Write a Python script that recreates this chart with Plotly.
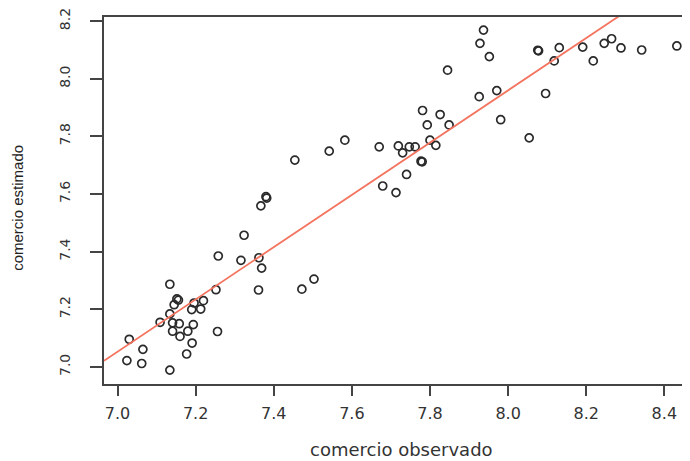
import plotly.graph_objects as go

# observed (x) and estimated (y) trade values
observado = [
    7.024, 7.030, 7.062, 7.065, 7.109, 7.134, 7.134, 7.134, 7.141, 7.141,
    7.145, 7.152, 7.156, 7.158, 7.160, 7.177, 7.180, 7.190, 7.191, 7.194,
    7.196, 7.213, 7.220, 7.252, 7.256, 7.258, 7.316, 7.362, 7.369, 7.324,
    7.367, 7.380, 7.382, 7.361, 7.472, 7.503, 7.454, 7.542, 7.582, 7.670,
    7.679, 7.713, 7.719, 7.730, 7.740, 7.747, 7.762, 7.777, 7.780, 7.781,
    7.793, 7.800, 7.815, 7.826, 7.849, 7.845, 7.926, 7.971, 7.981, 8.054,
    8.096, 7.937, 7.928, 7.952, 8.076, 8.078, 8.131, 8.118, 8.191, 8.218,
    8.246, 8.265, 8.289, 8.342, 8.432,
]
estimado = [
    7.022, 7.096, 7.012, 7.061, 7.155, 7.287, 7.184, 6.989, 7.153, 7.124,
    7.216, 7.236, 7.232, 7.150, 7.106, 7.045, 7.124, 7.199, 7.083, 7.147,
    7.222, 7.201, 7.230, 7.268, 7.123, 7.385, 7.370, 7.379, 7.343, 7.457,
    7.559, 7.591, 7.586, 7.267, 7.270, 7.305, 7.718, 7.749, 7.787, 7.764,
    7.628, 7.605, 7.767, 7.743, 7.668, 7.764, 7.764, 7.714, 7.712, 7.890,
    7.840, 7.787, 7.769, 7.876, 7.840, 8.030, 7.938, 7.959, 7.858, 7.795,
    7.949, 8.169, 8.123, 8.077, 8.099, 8.097, 8.108, 8.062, 8.110, 8.062,
    8.123, 8.139, 8.107, 8.100, 8.114,
]

# fitted line y = a + b*x
intercepto = 0.704
pendiente = 0.907

x_ticks = [7.0, 7.2, 7.4, 7.6, 7.8, 8.0, 8.2, 8.4]
y_ticks = [7.0, 7.2, 7.4, 7.6, 7.8, 8.0, 8.2]
x_range = [6.9654, 8.4657]
y_range = [6.9408, 8.2145]

fig = go.Figure()

fig.add_trace(go.Scatter(
    x=observado, y=estimado, mode="markers",
    marker=dict(symbol="circle-open", size=8, color="#2a2a2a",
                line=dict(width=1.7, color="#2a2a2a")),
    showlegend=False, hoverinfo="x+y",
))

line_x = list(x_range)
line_y = [intercepto + pendiente * v for v in line_x]
fig.add_trace(go.Scatter(
    x=line_x, y=line_y, mode="lines",
    line=dict(color="#F4735E", width=1.8),
    showlegend=False, hoverinfo="skip",
))

fig.update_layout(
    width=682, height=453,
    margin=dict(l=96, r=0, t=6, b=77),
    paper_bgcolor="white", plot_bgcolor="white",
    font=dict(family="DejaVu Sans", color="#333333"),
    xaxis=dict(
        range=x_range, tickmode="array", tickvals=x_ticks,
        ticktext=[f"{v:.1f}" for v in x_ticks],
        showgrid=False, zeroline=False,
        showline=True, linecolor="#444444", linewidth=1.6, mirror=True,
        ticks="outside", ticklen=10, tickwidth=1.6, tickcolor="#444444",
        tickfont=dict(family="DejaVu Sans", size=16, color="#333333"),
        ticklabelstandoff=4,
    ),
    yaxis=dict(
        range=y_range, tickmode="array", tickvals=y_ticks,
        ticktext=[f"{v:.1f}" for v in y_ticks],
        showgrid=False, zeroline=False,
        showline=True, linecolor="#444444", linewidth=1.6, mirror=False,
        ticks="outside", ticklen=12, tickwidth=1.6, tickcolor="#444444",
        tickangle=-90,
        tickfont=dict(family="DejaVu Sans", size=14, color="#333333"),
        ticklabelstandoff=15,
        ticklabeloverflow="allow",
    ),
    annotations=[
        dict(text="comercio observado", xref="paper", yref="paper",
             x=0.5077, y=-0.178, xanchor="center", yanchor="middle",
             showarrow=False,
             font=dict(family="DejaVu Sans", size=18, color="#333333")),
        dict(text="comercio estimado", xref="paper", yref="paper",
             x=-0.1468, y=0.48, xanchor="center", yanchor="middle",
             textangle=-90, showarrow=False,
             font=dict(family="Liberation Sans Narrow, Liberation Sans", size=15,
                       color="#222222")),
    ],
)

fig.write_html("out.html")
